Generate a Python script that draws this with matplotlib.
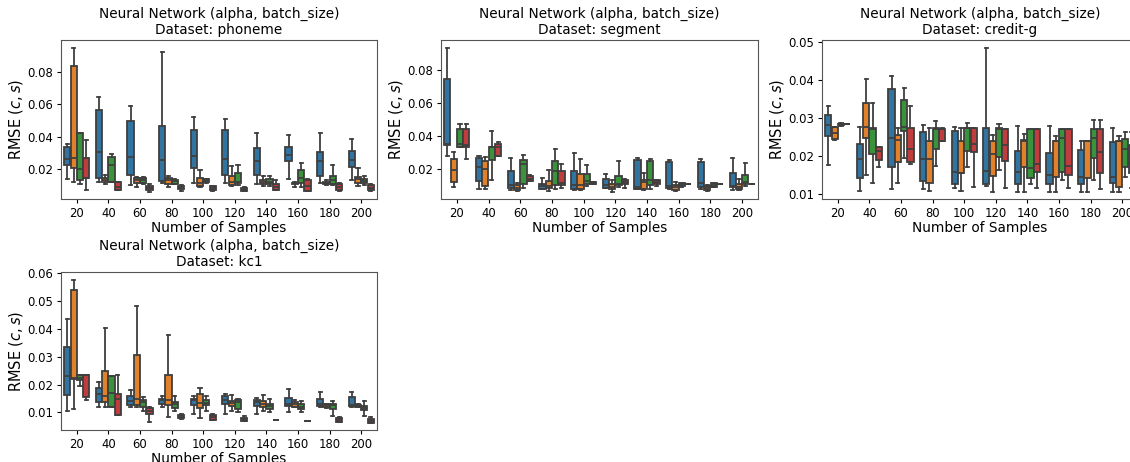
import numpy as np
import matplotlib
matplotlib.use("Agg")
import matplotlib.pyplot as plt

# sample sizes on the x axis
samples = [20, 40, 60, 80, 100, 120, 140, 160, 180, 200]
hue_colors = ['#3274a1', '#e1812c', '#3a923a', '#c03d3e']
line_gray = '#3f3f3f'

# box stats per hue level, one tuple per sample size: (whislo, q1, med, q3, whishi)
phoneme_h1 = [(0.0139, 0.0226, 0.0265, 0.0337, 0.0354), (0.0124, 0.0145, 0.0308, 0.0566, 0.0646),
              (0.0102, 0.0165, 0.0277, 0.0499, 0.0587), (0.0118, 0.0130, 0.0255, 0.0466, 0.0923),
              (0.0118, 0.0206, 0.0284, 0.0443, 0.0523), (0.0116, 0.0165, 0.0265, 0.0443, 0.0507),
              (0.0112, 0.0167, 0.0249, 0.0329, 0.0425), (0.0139, 0.0251, 0.0288, 0.0339, 0.0409),
              (0.0118, 0.0157, 0.0249, 0.0306, 0.0421), (0.0136, 0.0212, 0.0257, 0.0311, 0.0386)]
phoneme_h2 = [(0.0122, 0.0206, 0.0269, 0.0833, 0.0947), (0.0108, 0.0122, 0.0134, 0.0148, 0.0163),
              (0.0093, 0.0116, 0.0132, 0.0148, 0.0155), (0.0091, 0.0112, 0.0132, 0.0148, 0.0157),
              (0.0093, 0.0099, 0.0118, 0.0148, 0.0198), (0.0099, 0.0104, 0.0124, 0.0159, 0.0220),
              (0.0099, 0.0112, 0.0124, 0.0132, 0.0157), (0.0091, 0.0108, 0.0114, 0.0118, 0.0122),
              (0.0104, 0.0108, 0.0116, 0.0122, 0.0132), (0.0097, 0.0114, 0.0138, 0.0153, 0.0210)]
phoneme_h3 = [(0.0110, 0.0134, 0.0200, 0.0421, 0.0425), (0.0122, 0.0122, 0.0228, 0.0277, 0.0294),
              (0.0110, 0.0118, 0.0136, 0.0148, 0.0154), (0.0108, 0.0112, 0.0128, 0.0134, 0.0140),
              (0.0114, 0.0120, 0.0126, 0.0138, 0.0138), (0.0104, 0.0118, 0.0124, 0.0179, 0.0225),
              (0.0097, 0.0112, 0.0124, 0.0140, 0.0157), (0.0091, 0.0116, 0.0145, 0.0194, 0.0239),
              (0.0104, 0.0112, 0.0136, 0.0157, 0.0225), (0.0106, 0.0114, 0.0130, 0.0142, 0.0157)]
phoneme_h4 = [(0.0075, 0.0144, 0.0145, 0.0271, 0.0380), (0.0074, 0.0075, 0.0091, 0.0122, 0.0122),
              (0.0062, 0.0071, 0.0085, 0.0099, 0.0110), (0.0065, 0.0077, 0.0089, 0.0099, 0.0106),
              (0.0067, 0.0073, 0.0085, 0.0095, 0.0099), (0.0069, 0.0069, 0.0079, 0.0087, 0.0091),
              (0.0071, 0.0071, 0.0091, 0.0112, 0.0136), (0.0065, 0.0069, 0.0097, 0.0132, 0.0139),
              (0.0069, 0.0073, 0.0091, 0.0108, 0.0118), (0.0067, 0.0071, 0.0085, 0.0101, 0.0110)]

segment_h1 = [(0.0281, 0.0344, 0.0352, 0.0747, 0.0935), (0.0079, 0.0127, 0.0212, 0.0267, 0.0281),
              (0.0073, 0.0085, 0.0103, 0.0188, 0.0265), (0.0081, 0.0081, 0.0095, 0.0109, 0.0145),
              (0.0071, 0.0081, 0.0103, 0.0188, 0.0299), (0.0083, 0.0083, 0.0101, 0.0139, 0.0170),
              (0.0077, 0.0081, 0.0093, 0.0256, 0.0265), (0.0077, 0.0085, 0.0095, 0.0242, 0.0253),
              (0.0077, 0.0089, 0.0113, 0.0242, 0.0263), (0.0071, 0.0089, 0.0094, 0.0174, 0.0265)]
segment_h2 = [(0.0091, 0.0121, 0.0192, 0.0261, 0.0305), (0.0079, 0.0095, 0.0202, 0.0248, 0.0273),
              (0.0067, 0.0071, 0.0085, 0.0103, 0.0115), (0.0067, 0.0087, 0.0097, 0.0129, 0.0194),
              (0.0071, 0.0077, 0.0103, 0.0168, 0.0259), (0.0062, 0.0081, 0.0089, 0.0107, 0.0135),
              (0.0075, 0.0081, 0.0120, 0.0135, 0.0176), (0.0069, 0.0073, 0.0089, 0.0101, 0.0120),
              (0.0069, 0.0073, 0.0083, 0.0095, 0.0101), (0.0073, 0.0080, 0.0089, 0.0107, 0.0139)]
segment_h3 = [(0.0333, 0.0333, 0.0350, 0.0440, 0.0475), (0.0135, 0.0253, 0.0331, 0.0331, 0.0432),
              (0.0083, 0.0111, 0.0228, 0.0256, 0.0283), (0.0077, 0.0101, 0.0190, 0.0250, 0.0321),
              (0.0095, 0.0107, 0.0127, 0.0168, 0.0224), (0.0091, 0.0101, 0.0107, 0.0159, 0.0246),
              (0.0081, 0.0101, 0.0133, 0.0248, 0.0263), (0.0089, 0.0097, 0.0107, 0.0113, 0.0118),
              (0.0089, 0.0093, 0.0105, 0.0113, 0.0115), (0.0095, 0.0107, 0.0119, 0.0164, 0.0238)]
segment_h4 = [(0.0259, 0.0333, 0.0347, 0.0440, 0.0471), (0.0280, 0.0280, 0.0333, 0.0350, 0.0366),
              (0.0125, 0.0125, 0.0139, 0.0158, 0.0164), (0.0083, 0.0101, 0.0115, 0.0188, 0.0228),
              (0.0110, 0.0110, 0.0115, 0.0122, 0.0122), (0.0083, 0.0107, 0.0120, 0.0131, 0.0137),
              (0.0099, 0.0107, 0.0119, 0.0135, 0.0135), (0.0110, 0.0110, 0.0111, 0.0111, 0.0111),
              (0.0110, 0.0110, 0.0111, 0.0111, 0.0111), (0.0110, 0.0110, 0.0111, 0.0111, 0.0111)]

creditg_h1 = [(0.0178, 0.0254, 0.0281, 0.0307, 0.0331), (0.0109, 0.0144, 0.0192, 0.0231, 0.0276),
              (0.0115, 0.0173, 0.0247, 0.0375, 0.0411), (0.0113, 0.0136, 0.0192, 0.0264, 0.0282),
              (0.0116, 0.0127, 0.0159, 0.0266, 0.0276), (0.0122, 0.0128, 0.0162, 0.0275, 0.0484),
              (0.0107, 0.0127, 0.0159, 0.0213, 0.0280), (0.0107, 0.0127, 0.0151, 0.0208, 0.0280),
              (0.0107, 0.0127, 0.0145, 0.0216, 0.0241), (0.0107, 0.0131, 0.0145, 0.0238, 0.0275)]
creditg_h2 = [(0.0242, 0.0244, 0.0261, 0.0276, 0.0276), (0.0152, 0.0247, 0.0276, 0.0338, 0.0401),
              (0.0129, 0.0184, 0.0242, 0.0255, 0.0273), (0.0110, 0.0130, 0.0192, 0.0240, 0.0273),
              (0.0109, 0.0155, 0.0157, 0.0239, 0.0273), (0.0107, 0.0147, 0.0205, 0.0240, 0.0255),
              (0.0107, 0.0173, 0.0240, 0.0243, 0.0257), (0.0107, 0.0145, 0.0240, 0.0240, 0.0254),
              (0.0107, 0.0142, 0.0239, 0.0239, 0.0241), (0.0107, 0.0120, 0.0239, 0.0239, 0.0254)]
creditg_h3 = [(0.0280, 0.0281, 0.0283, 0.0285, 0.0286), (0.0131, 0.0207, 0.0271, 0.0273, 0.0338),
              (0.0194, 0.0267, 0.0277, 0.0346, 0.0379), (0.0175, 0.0219, 0.0271, 0.0273, 0.0293),
              (0.0172, 0.0213, 0.0273, 0.0273, 0.0288), (0.0164, 0.0197, 0.0272, 0.0273, 0.0285),
              (0.0127, 0.0142, 0.0168, 0.0271, 0.0271), (0.0137, 0.0158, 0.0248, 0.0271, 0.0271),
              (0.0137, 0.0194, 0.0247, 0.0271, 0.0294), (0.0145, 0.0173, 0.0220, 0.0246, 0.0262)]
creditg_h4 = [(0.0283, 0.0283, 0.0284, 0.0284, 0.0284), (0.0171, 0.0190, 0.0214, 0.0225, 0.0225),
              (0.0179, 0.0184, 0.0218, 0.0273, 0.0331), (0.0240, 0.0240, 0.0271, 0.0271, 0.0273),
              (0.0120, 0.0210, 0.0232, 0.0273, 0.0273), (0.0118, 0.0188, 0.0228, 0.0271, 0.0271),
              (0.0118, 0.0158, 0.0180, 0.0271, 0.0271), (0.0118, 0.0151, 0.0174, 0.0271, 0.0271),
              (0.0115, 0.0156, 0.0212, 0.0271, 0.0294), (0.0118, 0.0155, 0.0183, 0.0229, 0.0262)]

kc1_h1 = [(0.0106, 0.0164, 0.0231, 0.0334, 0.0434), (0.0118, 0.0138, 0.0167, 0.0186, 0.0211),
          (0.0120, 0.0125, 0.0142, 0.0158, 0.0182), (0.0118, 0.0131, 0.0143, 0.0150, 0.0159),
          (0.0094, 0.0126, 0.0144, 0.0150, 0.0159), (0.0094, 0.0132, 0.0144, 0.0159, 0.0167),
          (0.0096, 0.0123, 0.0138, 0.0145, 0.0152), (0.0102, 0.0123, 0.0132, 0.0152, 0.0185),
          (0.0120, 0.0123, 0.0129, 0.0147, 0.0172), (0.0120, 0.0123, 0.0126, 0.0157, 0.0172)]
kc1_h2 = [(0.0114, 0.0220, 0.0222, 0.0540, 0.0577), (0.0118, 0.0138, 0.0159, 0.0248, 0.0403),
          (0.0120, 0.0125, 0.0148, 0.0306, 0.0482), (0.0084, 0.0126, 0.0145, 0.0233, 0.0378),
          (0.0081, 0.0117, 0.0134, 0.0167, 0.0188), (0.0106, 0.0123, 0.0134, 0.0140, 0.0162),
          (0.0105, 0.0121, 0.0132, 0.0140, 0.0163), (0.0121, 0.0121, 0.0131, 0.0138, 0.0144),
          (0.0115, 0.0118, 0.0125, 0.0129, 0.0129), (0.0119, 0.0119, 0.0124, 0.0127, 0.0129)]
kc1_h3 = [(0.0195, 0.0216, 0.0225, 0.0233, 0.0233), (0.0118, 0.0121, 0.0169, 0.0231, 0.0231),
          (0.0105, 0.0120, 0.0136, 0.0145, 0.0155), (0.0105, 0.0117, 0.0132, 0.0138, 0.0159),
          (0.0106, 0.0125, 0.0134, 0.0143, 0.0159), (0.0102, 0.0112, 0.0136, 0.0144, 0.0150),
          (0.0102, 0.0112, 0.0124, 0.0129, 0.0147), (0.0102, 0.0111, 0.0121, 0.0130, 0.0142),
          (0.0088, 0.0112, 0.0126, 0.0130, 0.0142), (0.0087, 0.0107, 0.0117, 0.0124, 0.0142)]
kc1_h4 = [(0.0144, 0.0154, 0.0233, 0.0233, 0.0233), (0.0091, 0.0091, 0.0147, 0.0167, 0.0233),
          (0.0064, 0.0095, 0.0106, 0.0115, 0.0118), (0.0077, 0.0080, 0.0086, 0.0091, 0.0094),
          (0.0072, 0.0072, 0.0083, 0.0090, 0.0093), (0.0070, 0.0070, 0.0076, 0.0081, 0.0086),
          (0.0072, 0.0072, 0.0072, 0.0072, 0.0072), (0.0070, 0.0070, 0.0070, 0.0070, 0.0070),
          (0.0065, 0.0065, 0.0072, 0.0081, 0.0083), (0.0063, 0.0063, 0.0071, 0.0076, 0.0083)]

panels = [
    ('phoneme', [phoneme_h1, phoneme_h2, phoneme_h3, phoneme_h4], (0.0018, 0.0995)),
    ('segment', [segment_h1, segment_h2, segment_h3, segment_h4], (0.0018, 0.0982)),
    ('credit-g', [creditg_h1, creditg_h2, creditg_h3, creditg_h4], (0.0088, 0.0504)),
    ('kc1', [kc1_h1, kc1_h2, kc1_h3, kc1_h4], (0.0037, 0.0604)),
]

# axes boxes in figure fractions (the third one runs off the right edge like the original crop)
boxes = [
    [61 / 1130, 263 / 462, 316 / 1130, 159 / 462],
    [441 / 1130, 263 / 462, 317 / 1130, 159 / 462],
    [822 / 1130, 263 / 462, 316 / 1130, 159 / 462],
    [61 / 1130, 32 / 462, 316 / 1130, 158 / 462],
]

fig = plt.figure(figsize=(11.3, 4.62), dpi=100)

n_hue = 4
group_w = 0.8
box_w = group_w / n_hue

for (name, hues, ylim), rect in zip(panels, boxes):
    ax = fig.add_axes(rect)
    for j, stats in enumerate(hues):
        offset = (j - (n_hue - 1) / 2) * box_w
        bx = []
        for lo, q1, med, q3, hi in stats:
            bx.append({'whislo': lo, 'q1': q1, 'med': med, 'q3': q3, 'whishi': hi, 'fliers': []})
        pos = np.arange(len(samples)) + offset
        ax.bxp(bx, positions=pos, widths=box_w * 0.98, patch_artist=True,
               showfliers=False, manage_ticks=False,
               boxprops=dict(facecolor=hue_colors[j], edgecolor=line_gray, linewidth=1.3),
               whiskerprops=dict(color=line_gray, linewidth=1.3),
               capprops=dict(color=line_gray, linewidth=1.3),
               medianprops=dict(color=line_gray, linewidth=1.3))
    ax.set_xticks(np.arange(len(samples)))
    ax.set_xticklabels([str(s) for s in samples])
    ax.set_xlim(-0.5, len(samples) - 0.5)
    ax.set_ylim(*ylim)
    ax.tick_params(labelsize=8.4, length=3, pad=2.5)
    for sp in ax.spines.values():
        sp.set_color('#555555')
    ax.set_title('Neural Network (alpha, batch_size)\nDataset: ' + name, fontsize=9.8, pad=4)
    ax.set_xlabel('Number of Samples', fontsize=9.8, labelpad=1)
    ax.set_ylabel('RMSE $(c, s)$', fontsize=10.5, labelpad=2)

fig.savefig('out.png', dpi=100)
